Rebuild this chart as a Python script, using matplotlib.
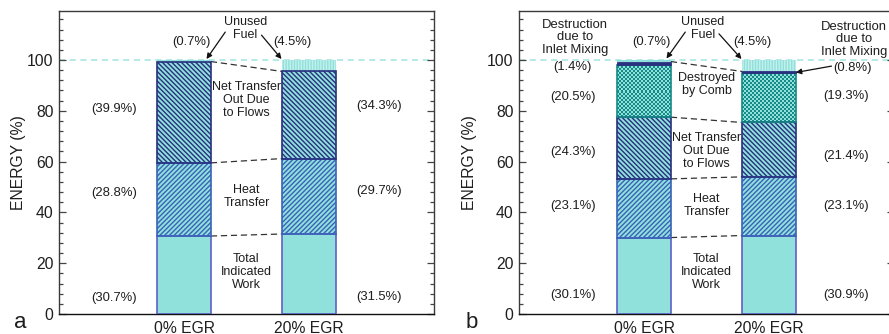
import numpy as np
import matplotlib
matplotlib.use("Agg")
import matplotlib.pyplot as plt
from matplotlib.colors import ListedColormap

plt.rcParams['font.family'] = ['Liberation Sans', 'DejaVu Sans']
plt.rcParams['hatch.linewidth'] = 1.0

# ---- data -------------------------------------------------------------
groups = ["0% EGR", "20% EGR"]

# panel a: energy balance
a_work = [30.7, 31.5]
a_heat = [28.8, 29.7]
a_flows = [39.9, 34.3]
a_unused = [0.7, 4.5]

# panel b: exergy balance
b_work = [30.1, 30.9]
b_heat = [23.1, 23.1]
b_flows = [24.3, 21.4]
b_comb = [20.5, 19.3]
b_mixing = [1.4, 0.8]
b_unused = [0.7, 4.5]

# ---- styling ----------------------------------------------------------
CYAN = '#90e0db'
STRIPE = '#c2f0ed'
NAVY = '#28307f'
BLUE = '#3a62b8'
PURPLE = '#5d60c4'
TEAL = '#168a86'
TXT = '#1e1e1e'

W, H, DPI = 889, 334, 100
fig = plt.figure(figsize=(W / DPI, H / DPI), dpi=DPI)

X = np.array([1.0, 2.0])
BW = 0.43
YMAX = 119.3

HATCH_HEAT = '/' * 7
HATCH_FLOW = '\\' * 7


def setup_axes(ax, labelpad):
    ax.set_xlim(0, 3)
    ax.set_ylim(0, YMAX)
    ax.set_xticks(X)
    ax.set_xticklabels(groups, fontsize=11.3, color=TXT)
    ax.set_yticks(np.arange(0, 101, 20))
    ax.set_yticks(np.arange(0, 118, 4), minor=True)
    ax.tick_params(axis='y', which='both', direction='in', left=True, right=True,
                   colors='#444444', labelcolor=TXT, labelsize=11.3, pad=4)
    ax.tick_params(axis='y', which='major', length=5, width=0.9)
    ax.tick_params(axis='y', which='minor', length=2.6, width=0.9)
    ax.tick_params(axis='x', length=0, pad=5)
    ax.set_ylabel('ENERGY (%)', fontsize=11.3, color=TXT, labelpad=labelpad)
    for s in ax.spines.values():
        s.set_color('#3a3a3a')
        s.set_linewidth(1.0)
    ax.spines['bottom'].set_color('#111111')
    ax.axhline(100, color='#9fe4df', lw=1.1, ls=(0, (4, 3)), zorder=1)


def seg(ax, bottom, height, fill, edge, hatch=None, hatch_color=None, lw=1.2):
    """Stacked segment: hatch layer plus an outline layer."""
    if hatch:
        ax.bar(X, height, BW, bottom=bottom, color=fill, edgecolor=hatch_color,
               hatch=hatch, linewidth=0, zorder=2)
    else:
        ax.bar(X, height, BW, bottom=bottom, color=fill, linewidth=0, zorder=2)
    return ax.bar(X, height, BW, bottom=bottom, fill=False, edgecolor=edge,
                  linewidth=lw, zorder=4)


def checker(ax, bars, c_dark, c_light, cell_px=2.0):
    """Fill each bar with a fine checkerboard clipped to the bar."""
    cmap = ListedColormap([c_light, c_dark])
    for b in bars.patches:
        x0, y0, w, h = b.get_x(), b.get_y(), b.get_width(), b.get_height()
        p0 = ax.transData.transform((x0, y0))
        p1 = ax.transData.transform((x0 + w, y0 + h))
        nx = max(1, int(round(abs(p1[0] - p0[0]) / cell_px)))
        ny = max(1, int(round(abs(p1[1] - p0[1]) / cell_px)))
        board = (np.add.outer(np.arange(ny), np.arange(nx)) % 2).astype(float)
        im = ax.imshow(board, cmap=cmap, extent=(x0, x0 + w, y0, y0 + h),
                       interpolation='nearest', aspect='auto', zorder=3)
        im.set_clip_path(b)


def dashed_link(ax, y_left, y_right):
    ax.plot([X[0] + BW / 2, X[1] - BW / 2], [y_left, y_right], color='#333333',
            lw=0.9, ls=(0, (5, 3)), zorder=3)


def pct(v):
    return f'({v:.1f}%)'


def arrow(ax, xy_text, xy_tip):
    ax.annotate('', xy=xy_tip, xytext=xy_text,
                arrowprops=dict(arrowstyle='-|>', color='#111111', lw=0.9,
                                mutation_scale=8, shrinkA=0, shrinkB=0),
                zorder=6)


def unused_fuel(ax, bottoms, unused):
    """Unused-fuel cap: plain for the first bar, striped for the second."""
    ax.bar(X[0], unused[0], BW, bottom=bottoms[0], color=CYAN, linewidth=0, zorder=2)
    ax.bar(X[1], unused[1], BW, bottom=bottoms[1], color=CYAN, edgecolor=STRIPE,
           hatch='|' * 6, linewidth=0, zorder=2)


mid_kw = dict(ha='center', va='center', fontsize=9.0, color=TXT, linespacing=1.12)
side_kw = dict(ha='center', va='center', fontsize=9.4, color=TXT, linespacing=1.05)
pct_kw = dict(ha='center', va='center', fontsize=9.4, color=TXT)

# ---- panel a ----------------------------------------------------------
axa = fig.add_axes([59 / W, 20 / H, 375 / W, 303 / H])
setup_axes(axa, labelpad=1)

ba = np.zeros(2)
seg(axa, ba, a_work, CYAN, PURPLE)
ba1 = ba + a_work
seg(axa, ba1, a_heat, CYAN, BLUE, hatch=HATCH_HEAT, hatch_color=BLUE)
ba2 = ba1 + a_heat
seg(axa, ba2, a_flows, CYAN, NAVY, hatch=HATCH_FLOW, hatch_color=NAVY)
ba3 = ba2 + a_flows
unused_fuel(axa, ba3, a_unused)

dashed_link(axa, ba1[0], ba1[1])
dashed_link(axa, ba2[0], ba2[1])
dashed_link(axa, ba3[0], ba3[1])

for v, y in zip([a_flows[0], a_heat[0], a_work[0]], [80.7, 47.8, 6.2]):
    axa.text(0.44, y, pct(v), **pct_kw)
for v, y in zip([a_flows[1], a_heat[1], a_work[1]], [81.9, 48.4, 6.8]):
    axa.text(2.56, y, pct(v), **pct_kw)

axa.text(1.5, 84.3, 'Net Transfer\nOut Due\nto Flows', **mid_kw)
axa.text(1.5, 46.2, 'Heat\nTransfer', **mid_kw)
axa.text(1.5, 16.7, 'Total\nIndicated\nWork', **mid_kw)
axa.text(1.49, 112.5, 'Unused\nFuel', **mid_kw)
axa.text(1.06, 107.2, pct(a_unused[0]), **pct_kw)
axa.text(1.87, 107.2, pct(a_unused[1]), **pct_kw)
arrow(axa, (1.33, 111.0), (1.18, 100.4))
arrow(axa, (1.62, 109.8), (1.78, 100.4))

# ---- panel b ----------------------------------------------------------
axb = fig.add_axes([519 / W, 20 / H, 375 / W, 303 / H])
setup_axes(axb, labelpad=7)

bb = np.zeros(2)
seg(axb, bb, b_work, CYAN, PURPLE)
bb1 = bb + b_work
seg(axb, bb1, b_heat, CYAN, BLUE, hatch=HATCH_HEAT, hatch_color=BLUE)
bb2 = bb1 + b_heat
seg(axb, bb2, b_flows, CYAN, NAVY, hatch=HATCH_FLOW, hatch_color=NAVY)
bb3 = bb2 + b_flows
comb_bars = axb.bar(X, b_comb, BW, bottom=bb3, color=CYAN, linewidth=0, zorder=2)
checker(axb, comb_bars, TEAL, CYAN)
axb.bar(X, b_comb, BW, bottom=bb3, fill=False, edgecolor=TEAL, linewidth=1.2, zorder=4)
bb4 = bb3 + b_comb
axb.bar(X, b_mixing, BW, bottom=bb4, color=NAVY, edgecolor=NAVY, linewidth=0.6, zorder=4)
bb5 = bb4 + b_mixing
unused_fuel(axb, bb5, b_unused)

dashed_link(axb, bb1[0], bb1[1])
dashed_link(axb, bb2[0], bb2[1])
dashed_link(axb, bb3[0], bb3[1])
dashed_link(axb, bb5[0], bb5[1])

for v, y in zip([b_mixing[0], b_comb[0], b_flows[0], b_heat[0], b_work[0]],
                [97.4, 85.6, 63.9, 42.6, 7.5]):
    axb.text(0.43, y, pct(v), **pct_kw)
for v, y in zip([b_comb[1], b_flows[1], b_heat[1], b_work[1]],
                [85.8, 62.3, 42.6, 7.5]):
    axb.text(2.62, y, pct(v), **pct_kw)
axb.text(2.67, 97.0, pct(b_mixing[1]), **pct_kw)

axb.text(0.45, 108.9, 'Destruction\ndue to\nInlet Mixing', **side_kw)
axb.text(2.68, 108.1, 'Destruction\ndue to\nInlet Mixing', **side_kw)
axb.text(1.5, 90.4, 'Destroyed\nby Comb', **mid_kw)
axb.text(1.5, 64.3, 'Net Transfer\nOut Due\nto Flows', **mid_kw)
axb.text(1.5, 42.6, 'Heat\nTransfer', **mid_kw)
axb.text(1.5, 16.7, 'Total\nIndicated\nWork', **mid_kw)
axb.text(1.47, 112.5, 'Unused\nFuel', **mid_kw)
axb.text(1.06, 107.2, pct(b_unused[0]), **pct_kw)
axb.text(1.87, 107.2, pct(b_unused[1]), **pct_kw)
arrow(axb, (1.33, 111.0), (1.18, 100.6))
arrow(axb, (1.60, 110.3), (1.78, 100.4))
arrow(axb, (2.50, 97.6), (X[1] + BW / 2, bb4[1] + b_mixing[1] / 2))

# panel letters
fig.text(20 / W, 1 - 323 / H, 'a', fontsize=16, ha='center', va='center', color=TXT)
fig.text(472 / W, 1 - 323 / H, 'b', fontsize=16, ha='center', va='center', color=TXT)

fig.savefig('out.png', dpi=DPI)
